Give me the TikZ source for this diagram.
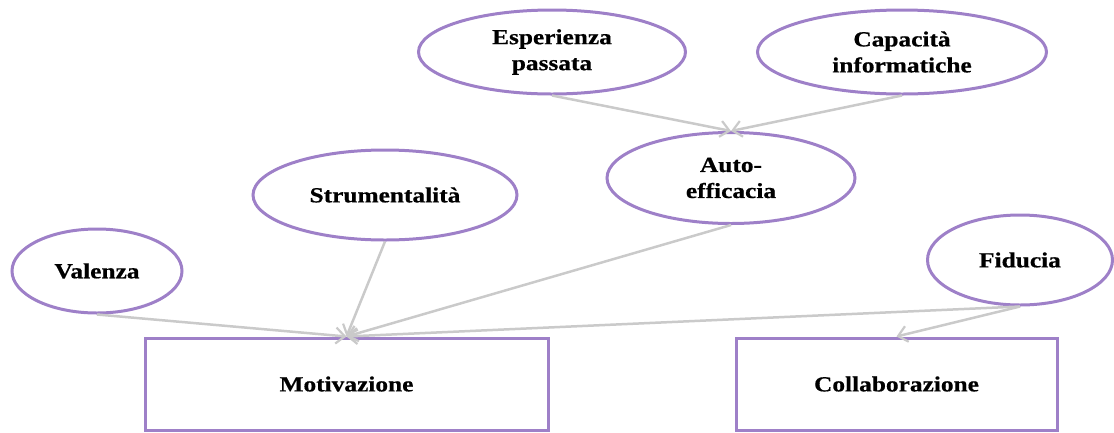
\documentclass[tikz,border=0pt]{standalone}
\usepackage{fontspec}
\setmainfont{Liberation Serif}
\newfontfamily\lblfont[FakeStretch=1.18,BoldFeatures={FakeBold=0.6}]{Liberation Serif}
\usetikzlibrary{shapes.geometric,arrows.meta}
\definecolor{frame}{RGB}{158,128,200}
\definecolor{link}{RGB}{202,202,202}
\tikzset{
  concept/.style={ellipse, draw=frame, line width=3pt, inner sep=0pt,
    align=center, font=\lblfont\bfseries\fontsize{21.5}{26}\selectfont},
  outcome/.style={rectangle, draw=frame, line width=3pt, inner sep=0pt,
    font=\lblfont\bfseries\fontsize{21.5}{26}\selectfont},
  link/.style={draw=link, line width=2.5pt,
    -{Straight Barb[length=9pt,width=16pt,line width=2.2pt]}}
}
\begin{document}
\begin{tikzpicture}[x=1pt,y=-1pt]
\useasboundingbox (0,0) rectangle (1114,432);

% factor ellipses
\node[concept, minimum width=170, minimum height=84] (val) at (97,271) {Valenza};
\node[concept, minimum width=264, minimum height=90] (str) at (385,195) {Strumentalità};
\node[concept, minimum width=267, minimum height=84] (esp) at (552,52) {Esperienza\\passata};
\node[concept, minimum width=289, minimum height=84] (cap) at (902,52) {Capacità\\informatiche};
\node[concept, minimum width=248, minimum height=91] (aut) at (731,178) {Auto-\\efficacia};
\node[concept, minimum width=185, minimum height=90] (fid) at (1020,260) {Fiducia};

% outcome boxes
\node[outcome, minimum width=403, minimum height=92] (mot) at (346.5,384) {Motivazione};
\node[outcome, minimum width=321, minimum height=92] (col) at (896.5,384) {Collaborazione};

% influences
\draw[link] (esp.south) -- (aut.north);
\draw[link] (cap.south) -- (aut.north);
\draw[link] (val.south) -- (mot.north);
\draw[link] (str.south) -- (mot.north);
\draw[link] (aut.south) -- (mot.north);
\draw[link] (fid.south) -- (mot.north);
\draw[link] (fid.south) -- (col.north);
\end{tikzpicture}
\end{document}
